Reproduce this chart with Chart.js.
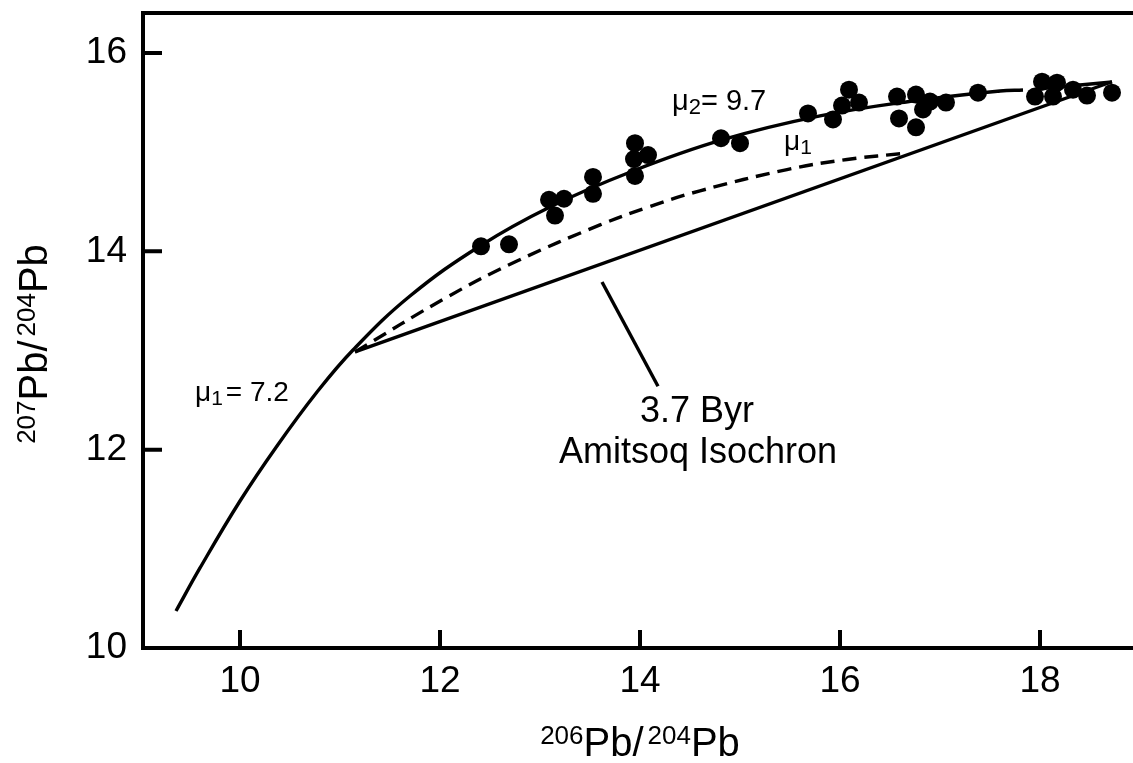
<!DOCTYPE html>
<html>
<head>
<meta charset="utf-8">
<title>Pb isotope growth curve</title>
<script src="https://cdn.jsdelivr.net/npm/chart.js@4.4.1/dist/chart.umd.min.js"></script>
<style>
  html, body { margin: 0; padding: 0; background: #fff; }
  #wrap { width: 1133px; height: 763px; position: relative; }
</style>
</head>
<body>
<div id="wrap"><canvas id="pbChart"></canvas></div>
<script>
const xTicks = [10, 12, 14, 16, 18];
const yTicks = [10, 12, 14, 16];

// samples: 206Pb/204Pb vs 207Pb/204Pb
const sampleX = [12.41, 12.69, 13.09, 13.24, 13.15, 13.53, 13.53, 13.95, 14.08, 13.94, 13.95, 14.81, 15.00, 15.68,
  15.93, 16.09, 16.02, 16.19, 16.57, 16.59, 16.76, 16.76, 16.83, 16.90, 17.06, 17.38,
  17.95, 18.02, 18.13, 18.17, 18.33, 18.47, 18.72];
const sampleY = [14.05, 14.07, 14.52, 14.53, 14.36, 14.75, 14.58, 15.09, 14.97, 14.93, 14.76, 15.14, 15.09, 15.39,
  15.33, 15.63, 15.47, 15.50, 15.56, 15.34, 15.58, 15.25, 15.43, 15.51, 15.50, 15.60,
  15.56, 15.71, 15.56, 15.70, 15.63, 15.57, 15.60];

// growth curve (mu1 = 7.2 then mu2 = 9.7), null = break in the line
const growthX = [9.36, 9.60, 10.00, 10.37, 10.77, 11.13, 11.70, 12.40, 13.10, 13.93, 14.82, 15.80, 16.73, 17.60, 17.83, 17.90, 17.97, 18.72];
const growthY = [10.373, 10.807, 11.482, 12.037, 12.581, 13.005, 13.549, 14.054, 14.447, 14.810, 15.123, 15.365, 15.516, 15.617, 15.627, null, 15.637, 15.707];

// continued mu1 curve (dashed)
const mu1X = [11.15, 12.07, 12.77, 13.60, 14.07, 14.60, 15.47, 16.07, 16.68];
const mu1Y = [12.985, 13.538, 13.902, 14.266, 14.441, 14.610, 14.824, 14.926, 14.992];

const isochronX = [11.15, 18.72];
const isochronY = [12.985, 15.71];

const leaderX = [13.62, 14.18];
const leaderY = [13.69, 12.64];

const FONT = '"Liberation Sans", Arial, Helvetica, sans-serif';

function pts(xs, ys) {
  return xs.map((x, i) => ({ x: x, y: ys[i] }));
}

function richText(ctx, parts, x, y, align) {
  let w = 0;
  parts.forEach(p => {
    ctx.font = p.size + 'px ' + FONT;
    p.w = ctx.measureText(p.t).width;
    w += p.w + (p.gap || 0);
  });
  let cx = align === 'center' ? x - w / 2 : x;
  parts.forEach(p => {
    ctx.font = p.size + 'px ' + FONT;
    ctx.fillText(p.t, cx, y + (p.dy || 0));
    cx += p.w + (p.gap || 0);
  });
}

function noPad(s) {
  s.paddingTop = 0;
  s.paddingBottom = 0;
  s.paddingLeft = 0;
  s.paddingRight = 0;
}

const annotations = {
  id: 'annotations',
  afterDraw(chart) {
    const ctx = chart.ctx;
    const xs = chart.scales.x, ys = chart.scales.y;
    ctx.save();
    ctx.fillStyle = '#000';
    ctx.strokeStyle = '#000';
    ctx.textBaseline = 'alphabetic';
    ctx.textAlign = 'left';

    // tick marks point into the plot
    ctx.lineWidth = 4;
    ctx.beginPath();
    xTicks.forEach(v => {
      const px = xs.getPixelForValue(v);
      ctx.moveTo(px, ys.bottom);
      ctx.lineTo(px, ys.bottom - 18);
    });
    yTicks.slice(1).forEach(v => {
      const py = ys.getPixelForValue(v);
      ctx.moveTo(xs.left, py);
      ctx.lineTo(xs.left + 19, py);
    });
    ctx.stroke();

    const X = v => xs.getPixelForValue(v);
    const Y = v => ys.getPixelForValue(v);

    richText(ctx, [{ t: 'μ', size: 29 }, { t: '2', size: 22, dy: 4 }, { t: '= 9.7', size: 29 }], X(14.32), Y(15.425), 'left');
    richText(ctx, [{ t: 'μ', size: 28 }, { t: '1', size: 21, dy: 4, gap: 3 }, { t: '= 7.2', size: 28 }], X(9.55), Y(12.49), 'left');
    richText(ctx, [{ t: 'μ', size: 28 }, { t: '1', size: 21, dy: 4 }], X(15.44), Y(15.02), 'left');
    richText(ctx, [{ t: '3.7 Byr', size: 36 }], X(14.57), Y(12.28), 'center');
    richText(ctx, [{ t: 'Amitsoq Isochron', size: 36 }], X(14.58), Y(11.865), 'center');

    // axis titles with superscript mass numbers
    const xTitle = [{ t: '206', size: 26, dy: -12 }, { t: 'Pb', size: 40 }, { t: '/', size: 40, gap: 4 }, { t: '204', size: 26, dy: -12 }, { t: 'Pb', size: 40 }];
    richText(ctx, xTitle, 640, 756, 'center');

    const yTitle = [{ t: '207', size: 26, dy: -12 }, { t: 'Pb', size: 40 }, { t: '/', size: 40, gap: 4 }, { t: '204', size: 26, dy: -12 }, { t: 'Pb', size: 40 }];
    ctx.translate(47, 344);
    ctx.rotate(-Math.PI / 2);
    richText(ctx, yTitle, 0, 0, 'center');
    ctx.restore();
  }
};

const lineBase = {
  type: 'scatter',
  showLine: true,
  borderColor: '#000',
  borderWidth: 3.4,
  pointRadius: 0,
  fill: false,
  spanGaps: false
};

new Chart(document.getElementById('pbChart'), {
  type: 'scatter',
  data: {
    datasets: [
      Object.assign({}, lineBase, { label: 'growth', data: pts(growthX, growthY), tension: 0.4 }),
      Object.assign({}, lineBase, { label: 'mu1', data: pts(mu1X, mu1Y), tension: 0.4, borderDash: [14, 8] }),
      Object.assign({}, lineBase, { label: 'isochron', data: pts(isochronX, isochronY) }),
      Object.assign({}, lineBase, { label: 'leader', data: pts(leaderX, leaderY) }),
      {
        label: 'samples',
        data: pts(sampleX, sampleY),
        pointRadius: 9,
        pointBackgroundColor: '#000',
        pointBorderWidth: 0,
        showLine: false
      }
    ]
  },
  options: {
    responsive: true,
    maintainAspectRatio: false,
    animation: false,
    layout: { padding: 0, autoPadding: false },
    plugins: { legend: { display: false }, tooltip: { enabled: false } },
    scales: {
      x: {
        type: 'linear',
        position: 'bottom',
        min: 9.03,
        max: 18.93,
        afterBuildTicks: s => { s.ticks = xTicks.map(v => ({ value: v })); },
        afterFit: s => { s.height = 115; noPad(s); },
        grid: { display: false },
        border: { display: true, color: '#000', width: 4 },
        ticks: { color: '#000', font: { family: FONT, size: 37 }, padding: 4, maxRotation: 0, autoSkip: false }
      },
      x2: {
        type: 'linear',
        position: 'top',
        min: 9.03,
        max: 18.93,
        afterFit: s => { s.height = 13; noPad(s); },
        grid: { display: false },
        border: { display: true, color: '#000', width: 4 },
        ticks: { display: false }
      },
      y: {
        type: 'linear',
        position: 'left',
        min: 10,
        max: 16.403,
        afterBuildTicks: s => { s.ticks = yTicks.map(v => ({ value: v })); },
        afterFit: s => { s.width = 143; noPad(s); },
        grid: { display: false },
        border: { display: true, color: '#000', width: 4 },
        ticks: { color: '#000', font: { family: FONT, size: 37 }, padding: 8, autoSkip: false }
      }
    }
  },
  plugins: [annotations]
});
</script>
</body>
</html>
